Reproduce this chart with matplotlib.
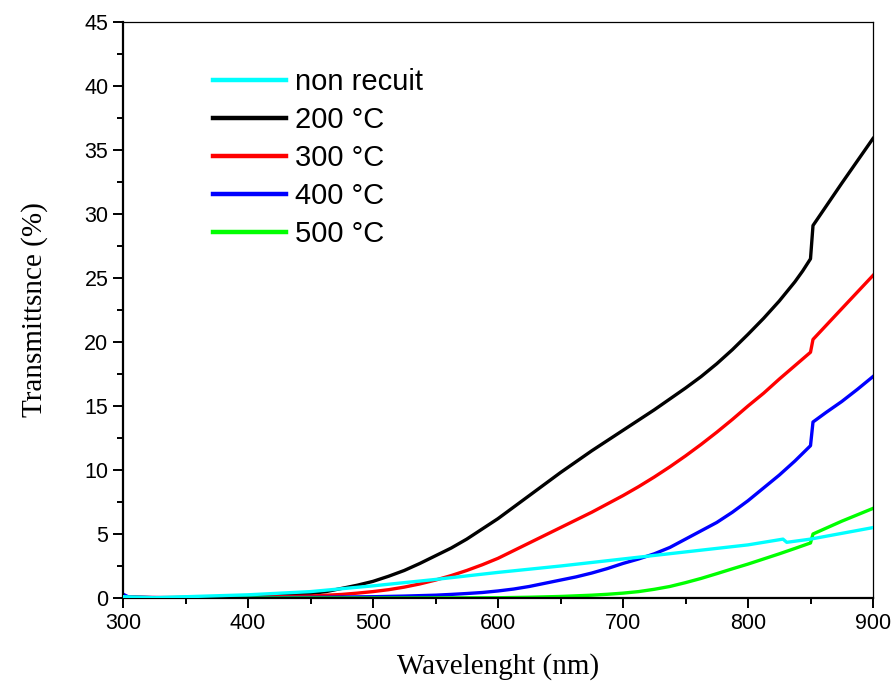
import matplotlib
matplotlib.use("Agg")
import matplotlib.pyplot as plt
from matplotlib.ticker import MultipleLocator

# Transmittance spectra (wavelength in nm, transmittance in %)
wl_nonrecuit = [300, 325, 350, 400, 450, 500, 550, 600, 650, 700, 750, 800, 828, 831, 850, 875, 900]
t_nonrecuit = [0.1, 0.02, 0.1, 0.25, 0.5, 0.95, 1.45, 2.0, 2.5, 3.05, 3.6, 4.15, 4.6, 4.35, 4.6, 5.05, 5.5]

wl_200 = [300, 325, 350, 375, 400, 425, 450, 462.5, 475, 487.5, 500, 512.5, 525, 537.5, 550,
          562.5, 575, 587.5, 600, 612.5, 625, 637.5, 650, 662.5, 675, 687.5, 700, 712.5, 725,
          737.5, 750, 762.5, 775, 787.5, 800, 812.5, 825, 837.5, 843.75, 850, 852, 875, 900]
t_200 = [0.1, 0.02, 0.05, 0.08, 0.12, 0.2, 0.35, 0.5, 0.75, 1.0, 1.3, 1.7, 2.15, 2.7, 3.3,
         3.9, 4.6, 5.4, 6.2, 7.1, 8.0, 8.9, 9.8, 10.65, 11.5, 12.3, 13.1, 13.9, 14.7,
         15.55, 16.4, 17.3, 18.3, 19.4, 20.6, 21.85, 23.2, 24.7, 25.55, 26.5, 29.1, 32.4, 35.9]

wl_300 = [300, 350, 400, 450, 475, 487.5, 500, 512.5, 525, 537.5, 550, 562.5, 575, 587.5, 600,
          612.5, 625, 637.5, 650, 662.5, 675, 687.5, 700, 712.5, 725, 737.5, 750, 762.5, 775,
          787.5, 800, 812.5, 825, 837.5, 850, 852, 875, 900]
t_300 = [0.05, 0.02, 0.05, 0.15, 0.28, 0.38, 0.5, 0.65, 0.85, 1.1, 1.4, 1.75, 2.15, 2.6, 3.1,
         3.7, 4.3, 4.9, 5.5, 6.1, 6.7, 7.35, 8.0, 8.7, 9.45, 10.25, 11.1, 12.0, 12.95,
         13.95, 15.0, 16.0, 17.1, 18.15, 19.2, 20.2, 22.6, 25.2]

wl_400 = [300, 305, 350, 400, 450, 500, 525, 550, 562.5, 575, 587.5, 600, 612.5, 625, 637.5,
          650, 662.5, 675, 687.5, 700, 712.5, 725, 737.5, 750, 762.5, 775, 787.5, 800, 812.5,
          825, 837.5, 850, 852, 862.5, 875, 887.5, 900]
t_400 = [0.3, 0.05, 0.02, 0.02, 0.05, 0.1, 0.15, 0.22, 0.28, 0.35, 0.43, 0.55, 0.7, 0.9, 1.15,
         1.4, 1.65, 1.95, 2.3, 2.7, 3.05, 3.45, 3.95, 4.6, 5.25, 5.9, 6.7, 7.6, 8.6,
         9.6, 10.7, 11.9, 13.75, 14.5, 15.35, 16.3, 17.3]

wl_500 = [300, 400, 500, 600, 612.5, 625, 637.5, 650, 662.5, 675, 687.5, 700, 712.5, 725, 737.5,
          750, 762.5, 775, 787.5, 800, 812.5, 825, 837.5, 850, 852, 875, 900]
t_500 = [0.0, 0.0, 0.0, 0.02, 0.04, 0.06, 0.09, 0.12, 0.17, 0.22, 0.29, 0.38, 0.5, 0.68, 0.9,
         1.2, 1.53, 1.9, 2.28, 2.65, 3.05, 3.45, 3.87, 4.3, 5.0, 6.0, 7.0]

series = [
    ("non recuit", wl_nonrecuit, t_nonrecuit, "#00ffff"),
    ("200 °C", wl_200, t_200, "#000000"),
    ("300 °C", wl_300, t_300, "#ff0000"),
    ("400 °C", wl_400, t_400, "#0000ff"),
    ("500 °C", wl_500, t_500, "#00ff00"),
]

fig = plt.figure(figsize=(8.93, 6.89), dpi=100)
ax = fig.add_axes([123 / 893, 1 - 598 / 689, 750 / 893, 576 / 689])

# draw the annealed series first; the untreated one sits on top
for label, x, y, c in series[1:]:
    ax.plot(x, y, color=c, lw=2.4, label=label)
lab, x, y, c = series[0]
ax.plot(x, y, color=c, lw=2.4, label=lab, zorder=3)

ax.set_xlim(300, 900)
ax.set_ylim(0, 45)
ax.xaxis.set_major_locator(MultipleLocator(100))
ax.xaxis.set_minor_locator(MultipleLocator(50))
ax.yaxis.set_major_locator(MultipleLocator(5))
ax.yaxis.set_minor_locator(MultipleLocator(2.5))

ax.tick_params(which="both", direction="out", top=False, right=False, width=1.4,
               labelsize=15.5)
ax.tick_params(which="major", length=7)
ax.tick_params(which="minor", length=4.5)
for lbl in ax.get_xticklabels() + ax.get_yticklabels():
    lbl.set_family("Liberation Sans")

ax.spines["left"].set_linewidth(1.6)
ax.spines["bottom"].set_linewidth(1.6)
ax.spines["top"].set_linewidth(0.9)
ax.spines["right"].set_linewidth(0.9)

ax.set_xlabel("Wavelenght (nm)", family="Liberation Serif", fontsize=21, labelpad=14)
ax.set_ylabel("Transmittsnce (%)", family="Liberation Serif", fontsize=21, labelpad=26)

handles, labels = ax.get_legend_handles_labels()
order = [labels.index(s[0]) for s in series]
leg = ax.legend([handles[i] for i in order], [labels[i] for i in order],
                loc="upper left", bbox_to_anchor=(0.105, 0.94), frameon=False,
                prop={"family": "Liberation Sans", "size": 21},
                handlelength=2.5, handletextpad=0.3, labelspacing=0.34,
                borderaxespad=0)
for line in leg.get_lines():
    line.set_linewidth(3.2)

fig.savefig("out.png", dpi=100)
